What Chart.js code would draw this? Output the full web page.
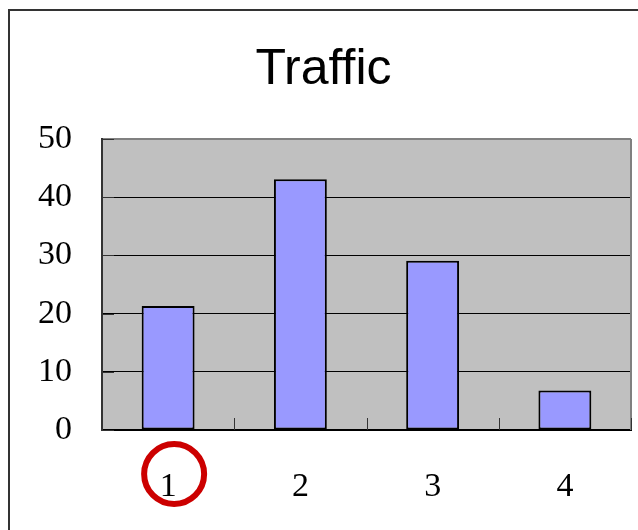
<!DOCTYPE html>
<html>
<head>
<meta charset="utf-8">
<title>Traffic</title>
<script src="https://cdn.jsdelivr.net/npm/chart.js@4.4.1/dist/chart.umd.min.js"></script>
<style>
  html, body { margin: 0; padding: 0; background: #fff; }
  #wrap { position: relative; width: 638px; height: 530px; }
</style>
</head>
<body>
<div id="wrap"><canvas id="chart" width="638" height="530"></canvas></div>
<script>
// Traffic per period
const categories = ['1', '2', '3', '4'];
const traffic = [21.3, 43.1, 29.1, 6.8];
const yTicks = [0, 10, 20, 30, 40, 50];

// Outer frame, plot fill, inward tick marks and the highlight ring on the first label
const decorations = {
  id: 'decorations',
  beforeDraw(chart) {
    const { ctx, chartArea: a } = chart;
    ctx.save();
    ctx.fillStyle = '#ffffff';
    ctx.fillRect(0, 0, chart.width, chart.height);
    ctx.strokeStyle = '#333333';
    ctx.lineWidth = 2;
    ctx.strokeRect(9, 10, 800, 800);
    ctx.fillStyle = '#C0C0C0';
    ctx.fillRect(a.left, a.top, a.right - a.left, a.bottom - a.top);
    ctx.restore();
  },
  afterDraw(chart) {
    const { ctx, chartArea: a, scales } = chart;
    const x = scales.x, y = scales.y;
    ctx.save();
    // right border of the plot
    ctx.strokeStyle = '#808080';
    ctx.lineWidth = 2;
    ctx.beginPath();
    ctx.moveTo(a.right, a.top);
    ctx.lineTo(a.right, a.bottom);
    ctx.stroke();
    // inward ticks on the value axis
    ctx.strokeStyle = '#333333';
    ctx.lineWidth = 1;
    yTicks.forEach(v => {
      const py = Math.round(y.getPixelForValue(v)) + 0.5;
      ctx.beginPath();
      ctx.moveTo(a.left, py);
      ctx.lineTo(a.left + 12, py);
      ctx.stroke();
    });
    // inward ticks between categories
    const step = x.getPixelForValue(1) - x.getPixelForValue(0);
    for (let i = 0; i < categories.length; i++) {
      const px = Math.round(x.getPixelForValue(i) + step / 2) + 0.5;
      ctx.beginPath();
      ctx.moveTo(px, a.bottom);
      ctx.lineTo(px, a.bottom - 12);
      ctx.stroke();
    }
    // highlight ring around the first category label
    ctx.strokeStyle = '#CC0000';
    ctx.lineWidth = 6;
    ctx.beginPath();
    ctx.arc(x.getPixelForValue(0) + 6, a.bottom + 44, 30, 0, Math.PI * 2);
    ctx.stroke();
    ctx.restore();
  }
};

new Chart(document.getElementById('chart'), {
  type: 'bar',
  data: {
    labels: categories,
    datasets: [{
      label: 'Traffic',
      data: traffic,
      backgroundColor: '#9999FF',
      borderColor: '#000000',
      borderWidth: 2,
      borderSkipped: false,
      categoryPercentage: 1,
      barPercentage: 0.4
    }]
  },
  options: {
    responsive: false,
    animation: false,
    devicePixelRatio: 1,
    layout: { padding: { left: 16, right: 7, top: 0, bottom: 0 } },
    plugins: {
      legend: { display: false },
      tooltip: { enabled: false },
      title: {
        display: true,
        text: 'Traffic',
        color: '#000000',
        font: { family: 'Liberation Sans, Arial, sans-serif', size: 50, weight: 'normal' },
        padding: { top: 40, bottom: 39 }
      }
    },
    scales: {
      x: {
        grid: { display: false, drawTicks: false },
        border: { display: true, color: '#000000', width: 2 },
        ticks: {
          color: '#000000',
          padding: 37,
          font: { family: 'Liberation Serif, Times New Roman, serif', size: 34 }
        },
        afterFit(scale) { scale.height = 100; }
      },
      y: {
        min: 0,
        max: 50,
        afterBuildTicks(scale) { scale.ticks = yTicks.map(v => ({ value: v })); },
        grid: {
          drawTicks: false,
          color: ctx => (ctx.tick && ctx.tick.value === 50) ? '#808080' : '#000000',
          lineWidth: ctx => (ctx.tick && ctx.tick.value === 50) ? 2 : 1
        },
        border: { display: true, color: '#333333', width: 2 },
        ticks: {
          color: '#000000',
          padding: 30,
          font: { family: 'Liberation Serif, Times New Roman, serif', size: 34 }
        },
        afterFit(scale) { scale.width = 86; }
      }
    }
  },
  plugins: [decorations]
});
</script>
</body>
</html>
